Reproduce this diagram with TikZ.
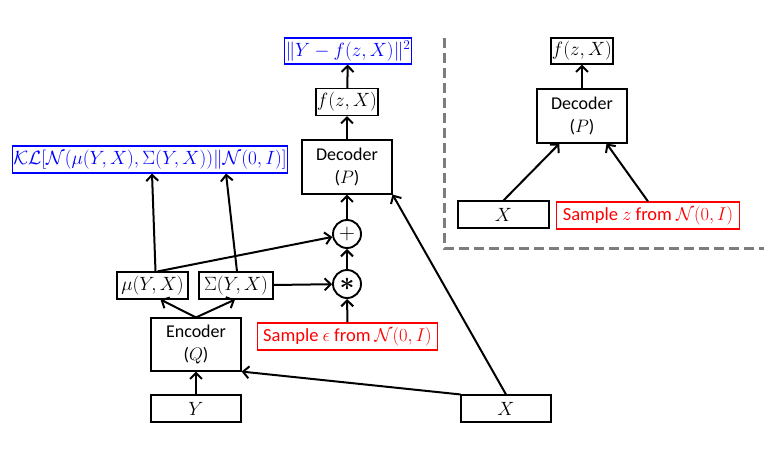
\RequirePackage{fix-cm}
\documentclass[tikz,border=0pt]{standalone}
\usepackage{fontspec}
\usepackage{amsmath,amssymb}
\newfontfamily\carl{Carlito}
\usetikzlibrary{arrows.meta}
\definecolor{pureblue}{RGB}{0,0,255}
\definecolor{purered}{RGB}{255,0,0}
\definecolor{dashgray}{RGB}{125,125,125}
\begin{document}
\begin{tikzpicture}[x=1pt,y=-1pt,
  box/.style={draw,line width=1.1pt,inner sep=1pt,font=\fontsize{19.2}{21}\selectfont},
  bluebox/.style={box,draw=pureblue,text=pureblue},
  redbox/.style={box,draw=purered,text=purered,inner xsep=6pt,font=\carl\fontsize{18.5}{20}\selectfont},
  codebox/.style={box,minimum width=90pt,minimum height=54pt,align=center,font=\carl\fontsize{18}{23}\selectfont},
  varbox/.style={box,minimum width=90pt,minimum height=27pt},
  opcirc/.style={draw,circle,line width=1.9pt,minimum size=28pt,inner sep=0pt},
  conn/.style={line width=2pt,-{Straight Barb[length=6pt,width=12pt,line width=2pt]}}
]
\useasboundingbox (0,0) rectangle (784,456);
% left part
\node[bluebox,minimum height=27pt] (kl) at (150,159.5) {$\mathcal{KL}[\mathcal{N}(\mu(Y,X),\Sigma(Y,X))\|\mathcal{N}(0,I)]$};
\node[bluebox,minimum height=26pt] (loss) at (348,51) {$\|Y-f(z,X)\|^2$};
\node[box,minimum height=27pt] (fl) at (347,102) {$f(z,X)$};
\node[codebox] (dec) at (347,167) {Decoder\\($P$)};
\node[opcirc] (plus) at (347,234) {\fontsize{22}{22}\selectfont$+$};
\node[opcirc] (ast) at (347,284) {\fontsize{26}{26}\selectfont$\boldsymbol{\ast}$};
\node[box,minimum width=71pt,minimum height=27pt] (mu) at (152.5,285.5) {$\mu(Y,X)$};
\node[box,minimum width=74pt,minimum height=27pt] (sig) at (236,285.5) {$\Sigma(Y,X)$};
\node[codebox,minimum height=53pt] (enc) at (196,344.5) {Encoder\\($Q$)};
\node[redbox,minimum height=27pt] (eps) at (347.5,336.5) {Sample $\epsilon$ from $\mathcal{N}(0,I)$};
\node[varbox] (y) at (196,408.5) {$Y$};
\node[varbox] (xl) at (506,408.5) {$X$};
% right part
\node[box,minimum height=26pt] (fr) at (582,51) {$f(z,X)$};
\node[codebox] (decr) at (582,116) {Decoder\\($P$)};
\node[box,minimum width=91pt,minimum height=27pt] (xr) at (503.5,214.5) {$X$};
\node[redbox,minimum height=27pt] (zr) at (648,215.5) {Sample $z$ from $\mathcal{N}(0,I)$};
% dashed separator
\coordinate (dtop) at (444,38);
\coordinate (dcorner) at (444,248);
\coordinate (dright) at (764,248);
\draw[dashgray,line width=3pt,dash pattern=on 10pt off 5pt] (dtop) -- (dcorner) -- (dright);
% connectors left
\draw[conn] (fl) -- (loss);
\draw[conn] (dec) -- (fl);
\draw[conn] (plus) -- (dec);
\draw[conn] (ast) -- (plus);
\draw[conn] (eps) -- (ast);
\draw[conn] (sig) -- (ast);
\draw[conn] ([xshift=5pt]mu.north) -- (plus);
\draw[conn] ([xshift=3pt]mu.north) -- ([xshift=2pt]kl.south);
\draw[conn] ([xshift=1pt]sig.north) -- ([xshift=76pt]kl.south);
\draw[conn] (enc.north) -- ([xshift=8pt]mu.south);
\draw[conn] (enc.north) -- ([xshift=-1pt]sig.south);
\draw[conn] (y) -- (enc);
\draw[conn] (xl.north west) -- (enc.south east);
\draw[conn] (xl.north) -- (dec.south east);
% connectors right
\draw[conn] (decr) -- (fr);
\draw[conn] (xr.north) -- ([xshift=23pt]decr.south west);
\draw[conn] (zr.north) -- ([xshift=-21pt]decr.south east);
\end{tikzpicture}
\end{document}
